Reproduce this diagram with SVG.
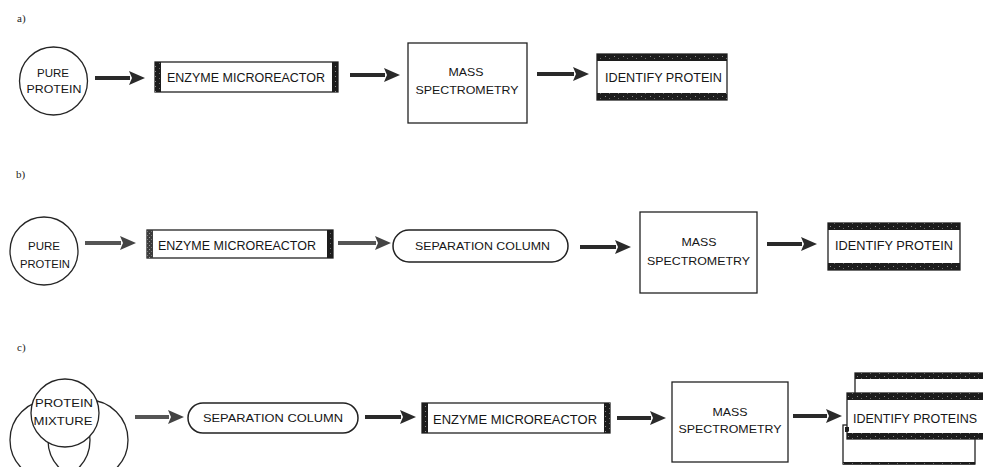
<svg xmlns="http://www.w3.org/2000/svg" width="983" height="467" viewBox="0 0 983 467">
  <style>
    .bg { fill: #ffffff; }
    .lbl { font-family: "Liberation Sans", Arial, sans-serif; font-size: 11.5px; fill: #161616; text-anchor: middle; }
    .big { font-size: 13px; }
    .tag { font-family: "Liberation Serif", "Times New Roman", serif; font-size: 11px; fill: #222; }
    .ring { fill: #ffffff; stroke: #262626; stroke-width: 1.3; }
    .ring-open { fill: none; stroke: #262626; stroke-width: 1.3; }
    .box { fill: #ffffff; stroke: #222; stroke-width: 1.3; }
    .pill { fill: #ffffff; stroke: #222; stroke-width: 1.5; }
    .bar { fill: url(#speck); }
    .bar-grey { fill: url(#speck-grey); }
    .band { fill: url(#speck); }
    .arrow { stroke: #2a2a2a; stroke-width: 4; fill: none; marker-end: url(#head); }
    .arrow-grey { stroke: #555; stroke-width: 4; fill: none; marker-end: url(#head-grey); }
  </style>
  <defs>
    <!-- grainy dark fill for the heavy edges of the boxes -->
    <pattern id="speck" patternUnits="userSpaceOnUse" width="9" height="5">
      <rect width="9" height="5" fill="#1c1c1c"/>
      <rect x="2" y="1" width="1" height="1" fill="#8a8a8a"/>
      <rect x="6" y="3" width="1" height="1" fill="#6e6e6e"/>
    </pattern>
    <pattern id="speck-grey" patternUnits="userSpaceOnUse" width="4" height="4">
      <rect width="4" height="4" fill="#3c3c3c"/>
      <rect x="1" y="1" width="1" height="1" fill="#9a9a9a"/>
      <rect x="3" y="3" width="1" height="1" fill="#7a7a7a"/>
    </pattern>
    <marker id="head" markerUnits="userSpaceOnUse" markerWidth="17" markerHeight="14" refX="1" refY="7" orient="auto">
      <path d="M0,0 L16,7 L0,14 L3,7 z" fill="#2a2a2a"/>
    </marker>
    <marker id="head-grey" markerUnits="userSpaceOnUse" markerWidth="17" markerHeight="14" refX="1" refY="7" orient="auto">
      <path d="M0,0 L16,7 L0,14 L3,7 z" fill="#444"/>
    </marker>
  </defs>

  <rect class="bg" x="0" y="0" width="983" height="467"/>

  <!-- section tags -->
  <text class="tag" x="17" y="22">a)</text>
  <text class="tag" x="16" y="178">b)</text>
  <text class="tag" x="17" y="351">c)</text>

  <!-- ===== row a ===== -->
  <g id="a-pure-protein">
    <circle class="ring" cx="53.5" cy="81" r="34"/>
    <text class="lbl" x="53" y="77" textLength="32" lengthAdjust="spacingAndGlyphs">PURE</text>
    <text class="lbl" x="54" y="93" textLength="55" lengthAdjust="spacingAndGlyphs">PROTEIN</text>
  </g>
  <g id="a-enzyme-microreactor">
    <rect class="box" x="155" y="62" width="183" height="30"/>
    <rect class="bar" x="155" y="62" width="6" height="30"/>
    <rect class="bar" x="332" y="62" width="6" height="30"/>
    <text class="lbl big" x="246" y="81.5" textLength="158" lengthAdjust="spacingAndGlyphs">ENZYME MICROREACTOR</text>
  </g>
  <g id="a-mass-spectrometry">
    <rect class="box" x="408" y="43" width="119" height="80"/>
    <text class="lbl" x="466" y="76" textLength="35" lengthAdjust="spacingAndGlyphs">MASS</text>
    <text class="lbl" x="467" y="94" textLength="103" lengthAdjust="spacingAndGlyphs">SPECTROMETRY</text>
  </g>
  <g id="a-identify-protein">
    <rect class="box" x="597" y="54" width="130" height="46"/>
    <rect class="band" x="597" y="54" width="130" height="7"/>
    <rect class="band" x="597" y="93" width="130" height="7"/>
    <text class="lbl big" x="663.5" y="82" textLength="117" lengthAdjust="spacingAndGlyphs">IDENTIFY PROTEIN</text>
  </g>

  <!-- ===== row b ===== -->
  <g id="b-pure-protein">
    <circle class="ring" cx="44" cy="251" r="34"/>
    <text class="lbl" x="44" y="250" textLength="32" lengthAdjust="spacingAndGlyphs">PURE</text>
    <text class="lbl" x="45" y="268" textLength="50" lengthAdjust="spacingAndGlyphs">PROTEIN</text>
  </g>
  <g id="b-enzyme-microreactor">
    <rect class="box" x="147" y="230" width="186" height="28"/>
    <rect class="bar-grey" x="147" y="230" width="6" height="28"/>
    <rect class="bar" x="327" y="230" width="6" height="28"/>
    <text class="lbl big" x="237" y="249.5" textLength="158" lengthAdjust="spacingAndGlyphs">ENZYME MICROREACTOR</text>
  </g>
  <g id="b-separation-column">
    <rect class="pill" x="393" y="230" width="175" height="32" rx="16"/>
    <text class="lbl" x="482.5" y="250" textLength="135" lengthAdjust="spacingAndGlyphs">SEPARATION COLUMN</text>
  </g>
  <g id="b-mass-spectrometry">
    <rect class="box" x="640" y="212" width="117" height="81"/>
    <text class="lbl" x="699" y="246" textLength="35" lengthAdjust="spacingAndGlyphs">MASS</text>
    <text class="lbl" x="698.5" y="265" textLength="103" lengthAdjust="spacingAndGlyphs">SPECTROMETRY</text>
  </g>
  <g id="b-identify-protein">
    <rect class="box" x="828" y="223" width="132" height="47"/>
    <rect class="band" x="828" y="223" width="132" height="7"/>
    <rect class="band" x="828" y="263" width="132" height="7"/>
    <text class="lbl big" x="894" y="249.5" textLength="118" lengthAdjust="spacingAndGlyphs">IDENTIFY PROTEIN</text>
  </g>

  <!-- ===== row c ===== -->
  <g id="c-protein-mixture">
    <circle class="ring-open" cx="50" cy="440" r="40"/>
    <circle class="ring-open" cx="88" cy="440" r="40"/>
    <circle class="ring" cx="65" cy="413" r="34"/>
    <text class="lbl" x="64" y="407" textLength="58" lengthAdjust="spacingAndGlyphs">PROTEIN</text>
    <text class="lbl" x="63" y="425" textLength="59" lengthAdjust="spacingAndGlyphs">MIXTURE</text>
  </g>
  <g id="c-separation-column">
    <rect class="pill" x="188" y="403" width="170" height="30" rx="15"/>
    <text class="lbl" x="273" y="422" textLength="140" lengthAdjust="spacingAndGlyphs">SEPARATION COLUMN</text>
  </g>
  <g id="c-enzyme-microreactor">
    <rect class="box" x="422" y="403" width="188" height="30"/>
    <rect class="bar" x="422" y="403" width="6" height="30"/>
    <rect class="bar" x="604" y="403" width="6" height="30"/>
    <text class="lbl big" x="515" y="423.5" textLength="164" lengthAdjust="spacingAndGlyphs">ENZYME MICROREACTOR</text>
  </g>
  <g id="c-mass-spectrometry">
    <rect class="box" x="672" y="382" width="116" height="80"/>
    <text class="lbl" x="730" y="416" textLength="35" lengthAdjust="spacingAndGlyphs">MASS</text>
    <text class="lbl" x="730" y="433" textLength="103" lengthAdjust="spacingAndGlyphs">SPECTROMETRY</text>
  </g>
  <g id="c-identify-proteins">
    <!-- back sheet -->
    <rect class="box" x="855" y="373" width="140" height="30"/>
    <rect class="band" x="855" y="373" width="140" height="6"/>
    <!-- lower sheet -->
    <rect class="box" x="843" y="425" width="132" height="39"/>
    <rect class="band" x="843" y="462" width="132" height="2.5"/>
    <!-- front sheet -->
    <rect class="box" x="847" y="393" width="145" height="46"/>
    <rect class="band" x="847" y="393" width="145" height="7"/>
    <rect class="band" x="847" y="433" width="145" height="6"/>
    <rect class="band" x="845" y="427" width="4" height="5"/>
    <text class="lbl big" x="915" y="422.5" textLength="124" lengthAdjust="spacingAndGlyphs">IDENTIFY PROTEINS</text>
  </g>

  <!-- connectors -->
  <g id="connectors">
    <line class="arrow" x1="95" y1="78" x2="130" y2="78"/>
    <line class="arrow" x1="350" y1="75" x2="385" y2="75"/>
    <line class="arrow" x1="537" y1="74" x2="574" y2="74"/>
    <line class="arrow-grey" x1="85" y1="243" x2="121" y2="243"/>
    <line class="arrow-grey" x1="338" y1="243" x2="376" y2="243"/>
    <line class="arrow" x1="580" y1="247" x2="616" y2="247"/>
    <line class="arrow" x1="767" y1="244" x2="802" y2="244"/>
    <line class="arrow-grey" x1="135" y1="417" x2="169" y2="417"/>
    <line class="arrow" x1="365" y1="417" x2="401" y2="417"/>
    <line class="arrow" x1="617" y1="418" x2="651" y2="418"/>
    <line class="arrow" x1="793" y1="416" x2="827" y2="416"/>
  </g>
</svg>
